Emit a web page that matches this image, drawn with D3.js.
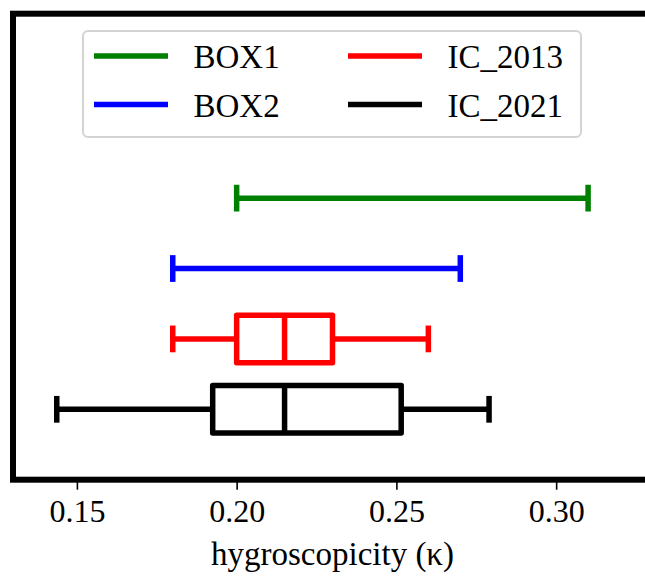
<!DOCTYPE html>
<html>
<head>
<meta charset="utf-8">
<script src="https://cdn.jsdelivr.net/npm/d3@7"></script>
<style>
  html, body { margin: 0; padding: 0; background: #fff; }
  svg { display: block; }
  svg text { font-family: "Liberation Serif", "Times New Roman", serif !important; }
</style>
</head>
<body>
<svg id="chart" width="645" height="577"></svg>
<script>
// ---- data ----
const categories = ["IC_2021", "IC_2013", "BOX2", "BOX1"];
const colors = ["#000000", "#ff0000", "#0000ff", "#008000"];
const whiskerLow = [0.1437, 0.18, 0.18, 0.20];
const q1 = [0.1925, 0.20, null, null];
const median = [0.215, 0.215, null, null];
const q3 = [0.2515, 0.23, null, null];
const whiskerHigh = [0.279, 0.26, 0.27, 0.31];
const xTicks = [0.15, 0.20, 0.25, 0.30];
const legendOrder = ["BOX1", "BOX2", "IC_2013", "IC_2021"];
const xLabel = "hygroscopicity (κ)";

// ---- layout ----
const pLeft = 13, pRight = 652, pTop = 13.7, pBottom = 479.7;
const serif = "'Liberation Serif', 'Times New Roman', serif";
const svg = d3.select("#chart");
const x = d3.scaleLinear().domain([0.13, 0.33]).range([pLeft, pRight]);
const y = d3.scaleLinear().domain([0, 6.62]).range([pBottom, pTop]);
const boxW = 0.675, capW = 0.38, lw = 5.5;

const g = svg.append("g");
categories.forEach((c, i) => {
  const pos = i + 1, col = colors[i];
  const yc = y(pos);
  const line = (x1, y1, x2, y2) => g.append("line")
    .attr("x1", x1).attr("y1", y1).attr("x2", x2).attr("y2", y2)
    .attr("stroke", col).attr("stroke-width", lw).attr("stroke-linecap", "butt");
  const capHalf = (y(0) - y(capW)) / 2;
  const boxHalf = (y(0) - y(boxW)) / 2;
  if (q1[i] !== null) {
    line(x(whiskerLow[i]), yc, x(q1[i]), yc);
    line(x(q3[i]), yc, x(whiskerHigh[i]), yc);
    g.append("rect")
      .attr("x", x(q1[i])).attr("y", yc - boxHalf)
      .attr("width", x(q3[i]) - x(q1[i])).attr("height", 2 * boxHalf)
      .attr("fill", "none").attr("stroke", col).attr("stroke-width", lw)
      .attr("stroke-linejoin", "round");
    line(x(median[i]), yc - boxHalf, x(median[i]), yc + boxHalf);
  } else {
    line(x(whiskerLow[i]), yc, x(whiskerHigh[i]), yc);
  }
  line(x(whiskerLow[i]), yc - capHalf, x(whiskerLow[i]), yc + capHalf);
  line(x(whiskerHigh[i]), yc - capHalf, x(whiskerHigh[i]), yc + capHalf);
});

// frame
svg.append("rect")
  .attr("x", pLeft).attr("y", pTop)
  .attr("width", pRight - pLeft).attr("height", pBottom - pTop)
  .attr("fill", "none").attr("stroke", "#000").attr("stroke-width", 6);

// x axis
const axis = d3.axisBottom(x).tickValues(xTicks).tickFormat(d3.format(".2f"))
  .tickSize(10).tickPadding(10);
const ax = svg.append("g").attr("transform", `translate(0,${pBottom})`).call(axis)
  .attr("font-family", serif);
ax.select(".domain").remove();
ax.selectAll(".tick line").attr("stroke", "#000").attr("stroke-width", 1.6);
ax.selectAll(".tick text").attr("font-size", 32).attr("fill", "#000")
  .style("font-family", serif);

svg.append("text")
  .attr("x", (pLeft + pRight) / 2).attr("y", 565)
  .attr("text-anchor", "middle").attr("font-size", 33).attr("fill", "#000")
  .style("font-family", serif)
  .text(xLabel);

// legend
const lg = svg.append("g");
lg.append("rect").attr("x", 83).attr("y", 31).attr("width", 498).attr("height", 106)
  .attr("rx", 5).attr("fill", "#fff").attr("stroke", "#d3d3d3").attr("stroke-width", 2);
legendOrder.forEach((name, k) => {
  const i = categories.indexOf(name);
  const col = Math.floor(k / 2), row = k % 2;
  const lx = 94 + col * 254, ly = 56 + row * 48.5;
  lg.append("line").attr("x1", lx).attr("x2", lx + 74).attr("y1", ly).attr("y2", ly)
    .attr("stroke", colors[i]).attr("stroke-width", lw);
  lg.append("text").attr("x", lx + 99.5).attr("y", ly + 12)
    .attr("font-size", 33).attr("fill", "#000")
    .style("font-family", serif).text(name);
});
</script>
</body>
</html>
